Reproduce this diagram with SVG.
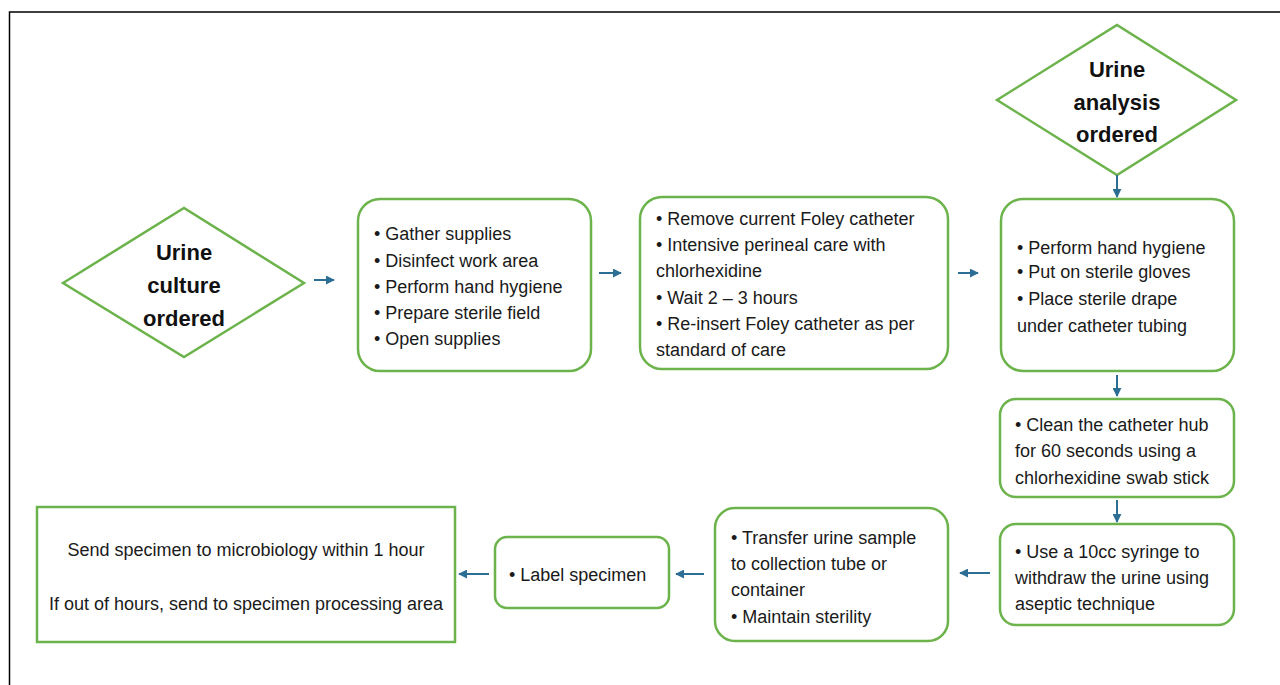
<svg xmlns="http://www.w3.org/2000/svg" width="1280" height="685" viewBox="0 0 1280 685">
<defs>
<style>
.frame{fill:none;stroke:#000;stroke-width:1.5}
.node{fill:#fff;stroke:#6bb34a;stroke-width:2.5}
.t{font-family:"Liberation Sans",Arial,sans-serif;font-size:18px;fill:#1a1a1a}
.tb{font-family:"Liberation Sans",Arial,sans-serif;font-size:22px;font-weight:bold;fill:#111;text-anchor:middle}
.c{text-anchor:middle}
.arr{fill:none;stroke:#2d6e94;stroke-width:2;marker-end:url(#ah)}
</style>
<marker id="ah" viewBox="0 0 10 10" refX="9" refY="5" markerWidth="4.5" markerHeight="4.5" orient="auto" markerUnits="strokeWidth">
<path d="M0,0 L10,5 L0,10 z" fill="#2d6e94"/>
</marker>
</defs>
<rect width="1280" height="685" fill="#fff"/>
<path class="frame" d="M9.5,685 V12 H1280"/>

<g id="n-culture">
<polygon class="node" points="63,283 184,208 304,283 184,357"/>
<text class="tb" x="184" y="260">Urine</text>
<text class="tb" x="184" y="293">culture</text>
<text class="tb" x="184" y="326">ordered</text>
</g>

<g id="n-analysis">
<polygon class="node" points="997,100 1117,25 1236,100 1117,175"/>
<text class="tb" x="1117" y="77">Urine</text>
<text class="tb" x="1117" y="110">analysis</text>
<text class="tb" x="1117" y="142">ordered</text>
</g>

<g id="n-prepare">
<rect class="node" x="358" y="199" width="233" height="172" rx="22"/>
<text class="t" x="374" y="240">• Gather supplies</text>
<text class="t" x="374" y="267">• Disinfect work area</text>
<text class="t" x="374" y="293">• Perform hand hygiene</text>
<text class="t" x="374" y="319">• Prepare sterile field</text>
<text class="t" x="374" y="345">• Open supplies</text>
</g>

<g id="n-foley">
<rect class="node" x="640" y="197" width="308" height="172" rx="22"/>
<text class="t" x="656" y="225">• Remove current Foley catheter</text>
<text class="t" x="656" y="251">• Intensive perineal care with</text>
<text class="t" x="656" y="277">chlorhexidine</text>
<text class="t" x="656" y="304">• Wait 2 – 3 hours</text>
<text class="t" x="656" y="330">• Re-insert Foley catheter as per</text>
<text class="t" x="656" y="356">standard of care</text>
</g>

<g id="n-gloves">
<rect class="node" x="1001" y="199" width="233" height="172" rx="22"/>
<text class="t" x="1017" y="254">• Perform hand hygiene</text>
<text class="t" x="1017" y="278">• Put on sterile gloves</text>
<text class="t" x="1017" y="305">• Place sterile drape</text>
<text class="t" x="1017" y="332">under catheter tubing</text>
</g>

<g id="n-clean">
<rect class="node" x="1000" y="399" width="234" height="98" rx="16"/>
<text class="t" x="1015" y="431">• Clean the catheter hub</text>
<text class="t" x="1015" y="457">for 60 seconds using a</text>
<text class="t" x="1015" y="484">chlorhexidine swab stick</text>
</g>

<g id="n-syringe">
<rect class="node" x="1000" y="524" width="234" height="101" rx="16"/>
<text class="t" x="1015" y="558">• Use a 10cc syringe to</text>
<text class="t" x="1015" y="584">withdraw the urine using</text>
<text class="t" x="1015" y="610">aseptic technique</text>
</g>

<g id="n-transfer">
<rect class="node" x="715" y="508" width="233" height="133" rx="20"/>
<text class="t" x="731" y="544">• Transfer urine sample</text>
<text class="t" x="731" y="570">to collection tube or</text>
<text class="t" x="731" y="596">container</text>
<text class="t" x="731" y="623">• Maintain sterility</text>
</g>

<g id="n-label">
<rect class="node" x="495" y="537" width="174" height="71" rx="12"/>
<text class="t" x="509" y="581">• Label specimen</text>
</g>

<g id="n-send">
<rect class="node" x="37" y="507" width="418" height="135"/>
<text class="t c" x="246" y="556">Send specimen to microbiology within 1 hour</text>
<text class="t c" x="246" y="610">If out of hours, send to specimen processing area</text>
</g>

<g id="connectors">
<line class="arr" x1="314" y1="280" x2="334" y2="280"/>
<line class="arr" x1="599" y1="273" x2="621" y2="273"/>
<line class="arr" x1="958" y1="273" x2="978" y2="273"/>
<line class="arr" x1="1117" y1="175" x2="1117" y2="197"/>
<line class="arr" x1="1117" y1="375" x2="1117" y2="396"/>
<line class="arr" x1="1117" y1="500" x2="1117" y2="522"/>
<line class="arr" x1="990" y1="573" x2="960" y2="573"/>
<line class="arr" x1="704" y1="574" x2="676" y2="574"/>
<line class="arr" x1="489" y1="574" x2="459" y2="574"/>
</g>
</svg>
